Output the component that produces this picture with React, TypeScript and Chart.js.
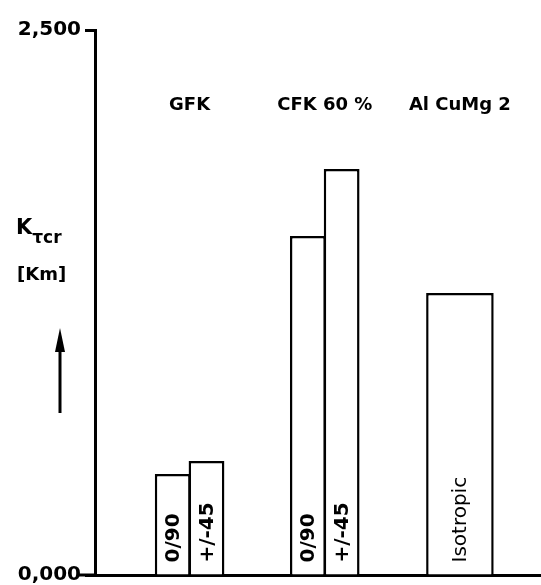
import React, { useEffect, useRef } from "react";
import { Chart, registerables } from "chart.js";

Chart.register(...registerables);

// ---- data ----
const groups = ["GFK", "CFK 60 %", "Al CuMg 2"];
const seriesNames = ["0/90", "+/-45", "Isotropic"];
const values090 = [463, 1555, null];
const values45 = [523, 1862, null];
const valuesIso = [null, null, 1294];
const yTickValues = [0, 2500];
const yTickLabels = ["0,000", "2,500"];
const yTitle = "K";
const yTitleSub = "τcr";
const yUnit = "[Km]";

const FONT = "'DejaVu Sans', sans-serif";

const toPoints = (vals: (number | null)[]) =>
  vals.map((v, i) => ({ x: i + 1, y: v }));

const decorPlugin = {
  id: "decor",
  afterDatasetsDraw(chart: any) {
    const ctx = chart.ctx;
    const xs = chart.scales.x;
    const ys = chart.scales.y;
    const area = chart.chartArea;
    ctx.save();
    ctx.fillStyle = "#000";
    ctx.strokeStyle = "#000";

    // labels inside bars (rotated)
    ctx.textBaseline = "middle";
    chart.data.datasets.forEach((ds: any, di: number) => {
      const meta = chart.getDatasetMeta(di);
      meta.data.forEach((bar: any, i: number) => {
        const raw = ds.data[i];
        if (!raw || raw.y === null || raw.y === undefined) return;
        const p = bar.getProps(["x", "base"], true);
        ctx.save();
        ctx.translate(p.x, p.base - 12);
        ctx.rotate(-Math.PI / 2);
        ctx.textAlign = "left";
        ctx.font = di === 2 ? `20px ${FONT}` : `bold 20px ${FONT}`;
        ctx.fillText(ds.label, 0, 1);
        ctx.restore();
      });
    });

    // group labels above bars
    ctx.font = `bold 18px ${FONT}`;
    ctx.textAlign = "center";
    ctx.textBaseline = "middle";
    groups.forEach((g, i) => {
      ctx.fillText(g, xs.getPixelForValue(i + 1), area.top + 75);
    });

    // extend x axis line slightly left of y axis
    const y0 = ys.getPixelForValue(0);
    ctx.lineWidth = 3;
    ctx.beginPath();
    ctx.moveTo(area.left - 17, y0);
    ctx.lineTo(area.left, y0);
    ctx.stroke();

    // y title
    ctx.textAlign = "left";
    ctx.textBaseline = "alphabetic";
    ctx.font = `bold 21px ${FONT}`;
    ctx.fillText(yTitle, 16, 234);
    const kw = ctx.measureText(yTitle).width;
    ctx.font = `bold 17px ${FONT}`;
    ctx.fillText(yTitleSub, 16 + kw, 243);
    ctx.font = `bold 18px ${FONT}`;
    ctx.fillText(yUnit, 17, 280);

    // arrow
    ctx.lineWidth = 3;
    ctx.beginPath();
    ctx.moveTo(60, 413);
    ctx.lineTo(60, 345);
    ctx.stroke();
    ctx.beginPath();
    ctx.moveTo(60, 328);
    ctx.lineTo(55, 352);
    ctx.lineTo(65, 352);
    ctx.closePath();
    ctx.fill();

    ctx.restore();
  },
};

export default function App() {
  const ref = useRef<HTMLCanvasElement | null>(null);
  useEffect(() => {
    if (!ref.current) return;
    const mk = (label: string, vals: (number | null)[], bp: number) => ({
      label,
      data: toPoints(vals),
      backgroundColor: "#fff",
      borderColor: "#000",
      borderWidth: 2.5,
      borderSkipped: "start" as const,
      skipNull: true,
      categoryPercentage: 0.5,
      barPercentage: bp,
    });
    const chart = new Chart(ref.current, {
      type: "bar",
      data: {
        datasets: [
          mk(seriesNames[0], values090, 1.06),
          mk(seriesNames[1], values45, 1.06),
          mk(seriesNames[2], valuesIso, 1.0),
        ],
      },
      options: {
        animation: false,
        responsive: true,
        maintainAspectRatio: false,
        layout: { padding: { top: 30, bottom: 10, left: 0, right: 0 } },
        plugins: { legend: { display: false }, tooltip: { enabled: false } },
        scales: {
          x: {
            type: "linear",
            min: 0.3,
            max: 3.6,
            offset: false,
            afterBuildTicks: (s: any) => {
              s.ticks = groups.map((_, i) => ({ value: i + 1 }));
            },
            ticks: { display: false },
            grid: { display: false, drawTicks: false, offset: false },
            border: { display: true, width: 3, color: "#000" },
          },
          y: {
            min: 0,
            max: 2500,
            afterBuildTicks: (s: any) => {
              s.ticks = yTickValues.map((v) => ({ value: v }));
            },
            afterFit: (s: any) => {
              s.width = 95;
            },
            ticks: {
              color: "#000",
              padding: 4,
              font: { family: FONT, size: 20, weight: "bold", lineHeight: 0.6 },
              callback: (v: any) => {
                const i = yTickValues.indexOf(Number(v));
                return i >= 0 ? yTickLabels[i] : "";
              },
            },
            grid: {
              drawOnChartArea: false,
              tickLength: 10,
              tickWidth: 3,
              color: "#000",
            },
            border: { display: true, width: 3, color: "#000" },
          },
        },
      },
      plugins: [decorPlugin],
    });
    return () => chart.destroy();
  }, []);
  return (
    <div
      style={{
        position: "absolute",
        left: 0,
        top: 0,
        width: 541,
        height: 585,
        background: "#fff",
      }}
    >
      <canvas ref={ref} />
    </div>
  );
}
